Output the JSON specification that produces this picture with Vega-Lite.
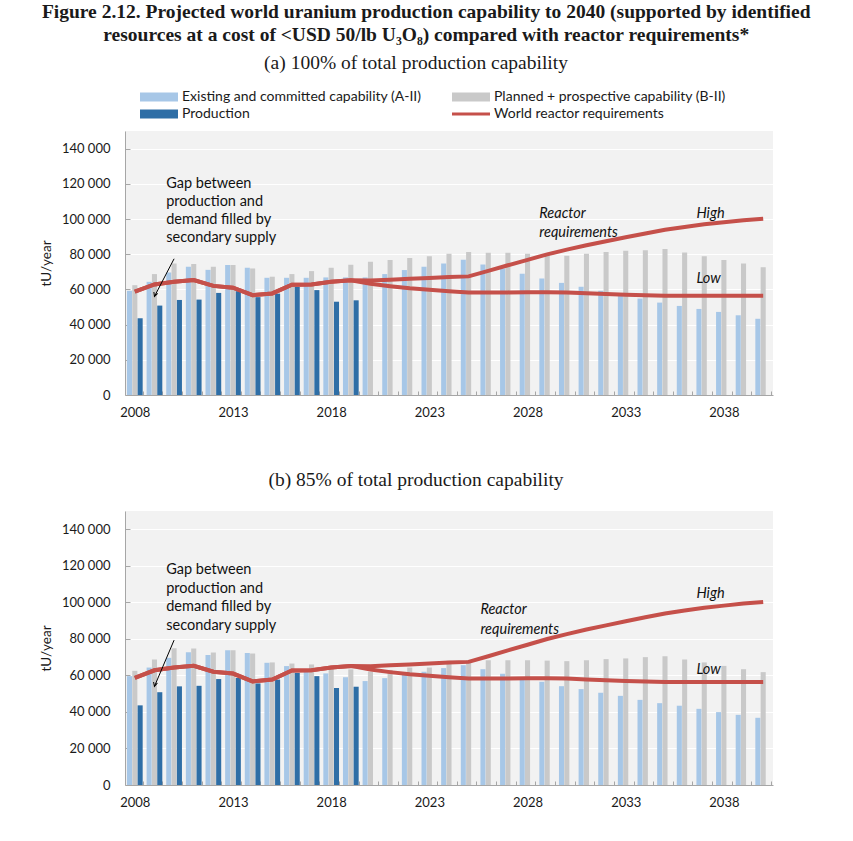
{
 "$schema": "https://vega.github.io/schema/vega-lite/v6.json",
 "padding": {"left": 39, "top": 2, "right": 10, "bottom": 10},
 "background": "white",
 "title": {"text": ["Figure 2.12. Projected world uranium production capability to 2040 (supported by identified", "resources at a cost of <USD 50/lb U₃O₈) compared with reactor requirements*"], "font": "Liberation Serif", "fontSize": 19.5, "fontWeight": "bold", "lineHeight": 23, "anchor": "middle", "dx": 20, "color": "#1a1a1a", "offset": 7},
 "datasets": {
  "barsA": [
   {"y":"2008","s":"A","v":59200},{"y":"2009","s":"A","v":64300},{"y":"2010","s":"A","v":69600},{"y":"2011","s":"A","v":72900},{"y":"2012","s":"A","v":71100},{"y":"2013","s":"A","v":73800},{"y":"2014","s":"A","v":72300},{"y":"2015","s":"A","v":66600},{"y":"2016","s":"A","v":66600},{"y":"2017","s":"A","v":66600},{"y":"2018","s":"A","v":66800},{"y":"2019","s":"A","v":66800},{"y":"2020","s":"A","v":66800},{"y":"2021","s":"A","v":68700},{"y":"2022","s":"A","v":71000},{"y":"2023","s":"A","v":72900},{"y":"2024","s":"A","v":74700},{"y":"2025","s":"A","v":76800},{"y":"2026","s":"A","v":74200},{"y":"2027","s":"A","v":71900},{"y":"2028","s":"A","v":68900},{"y":"2029","s":"A","v":66200},{"y":"2030","s":"A","v":63700},{"y":"2031","s":"A","v":61500},{"y":"2032","s":"A","v":59200},{"y":"2033","s":"A","v":57300},{"y":"2034","s":"A","v":54800},{"y":"2035","s":"A","v":52500},{"y":"2036","s":"A","v":50600},{"y":"2037","s":"A","v":48900},{"y":"2038","s":"A","v":47200},{"y":"2039","s":"A","v":45300},{"y":"2040","s":"A","v":43300},
   {"y":"2008","s":"B","v":62400},{"y":"2009","s":"B","v":68700},{"y":"2010","s":"B","v":74700},{"y":"2011","s":"B","v":74400},{"y":"2012","s":"B","v":72900},{"y":"2013","s":"B","v":73800},{"y":"2014","s":"B","v":71900},{"y":"2015","s":"B","v":67200},{"y":"2016","s":"B","v":68700},{"y":"2017","s":"B","v":70400},{"y":"2018","s":"B","v":72300},{"y":"2019","s":"B","v":74000},{"y":"2020","s":"B","v":75700},{"y":"2021","s":"B","v":76700},{"y":"2022","s":"B","v":77900},{"y":"2023","s":"B","v":78900},{"y":"2024","s":"B","v":80200},{"y":"2025","s":"B","v":81200},{"y":"2026","s":"B","v":80800},{"y":"2027","s":"B","v":80800},{"y":"2028","s":"B","v":80200},{"y":"2029","s":"B","v":80200},{"y":"2030","s":"B","v":79100},{"y":"2031","s":"B","v":80200},{"y":"2032","s":"B","v":81200},{"y":"2033","s":"B","v":82000},{"y":"2034","s":"B","v":82300},{"y":"2035","s":"B","v":82900},{"y":"2036","s":"B","v":81000},{"y":"2037","s":"B","v":78900},{"y":"2038","s":"B","v":76700},{"y":"2039","s":"B","v":74700},{"y":"2040","s":"B","v":72600},
   {"y":"2008","s":"P","v":43600},{"y":"2009","s":"P","v":50800},{"y":"2010","s":"P","v":54000},{"y":"2011","s":"P","v":54200},{"y":"2012","s":"P","v":58000},{"y":"2013","s":"P","v":59000},{"y":"2014","s":"P","v":55600},{"y":"2015","s":"P","v":57600},{"y":"2016","s":"P","v":61500},{"y":"2017","s":"P","v":59600},{"y":"2018","s":"P","v":53000},{"y":"2019","s":"P","v":53800}
  ],
  "barsB": [
   {"y":"2008","s":"A","v":59600},{"y":"2009","s":"A","v":64300},{"y":"2010","s":"A","v":69600},{"y":"2011","s":"A","v":72700},{"y":"2012","s":"A","v":71200},{"y":"2013","s":"A","v":73800},{"y":"2014","s":"A","v":72300},{"y":"2015","s":"A","v":66900},{"y":"2016","s":"A","v":65100},{"y":"2017","s":"A","v":63300},{"y":"2018","s":"A","v":61100},{"y":"2019","s":"A","v":59000},{"y":"2020","s":"A","v":56900},{"y":"2021","s":"A","v":58500},{"y":"2022","s":"A","v":60800},{"y":"2023","s":"A","v":62000},{"y":"2024","s":"A","v":64000},{"y":"2025","s":"A","v":65600},{"y":"2026","s":"A","v":63400},{"y":"2027","s":"A","v":60900},{"y":"2028","s":"A","v":58300},{"y":"2029","s":"A","v":56500},{"y":"2030","s":"A","v":54100},{"y":"2031","s":"A","v":52500},{"y":"2032","s":"A","v":50500},{"y":"2033","s":"A","v":48800},{"y":"2034","s":"A","v":46600},{"y":"2035","s":"A","v":44800},{"y":"2036","s":"A","v":43400},{"y":"2037","s":"A","v":41700},{"y":"2038","s":"A","v":39900},{"y":"2039","s":"A","v":38400},{"y":"2040","s":"A","v":36800},
   {"y":"2008","s":"B","v":62500},{"y":"2009","s":"B","v":68700},{"y":"2010","s":"B","v":74900},{"y":"2011","s":"B","v":74700},{"y":"2012","s":"B","v":72500},{"y":"2013","s":"B","v":73800},{"y":"2014","s":"B","v":72000},{"y":"2015","s":"B","v":67100},{"y":"2016","s":"B","v":66500},{"y":"2017","s":"B","v":66000},{"y":"2018","s":"B","v":65200},{"y":"2019","s":"B","v":63300},{"y":"2020","s":"B","v":62000},{"y":"2021","s":"B","v":63000},{"y":"2022","s":"B","v":64300},{"y":"2023","s":"B","v":64300},{"y":"2024","s":"B","v":68000},{"y":"2025","s":"B","v":68300},{"y":"2026","s":"B","v":68300},{"y":"2027","s":"B","v":68300},{"y":"2028","s":"B","v":68300},{"y":"2029","s":"B","v":68100},{"y":"2030","s":"B","v":67800},{"y":"2031","s":"B","v":68300},{"y":"2032","s":"B","v":68900},{"y":"2033","s":"B","v":69300},{"y":"2034","s":"B","v":70000},{"y":"2035","s":"B","v":70500},{"y":"2036","s":"B","v":68700},{"y":"2037","s":"B","v":67100},{"y":"2038","s":"B","v":65200},{"y":"2039","s":"B","v":63400},{"y":"2040","s":"B","v":61800},
   {"y":"2008","s":"P","v":43600},{"y":"2009","s":"P","v":50800},{"y":"2010","s":"P","v":54000},{"y":"2011","s":"P","v":54300},{"y":"2012","s":"P","v":58000},{"y":"2013","s":"P","v":58600},{"y":"2014","s":"P","v":55600},{"y":"2015","s":"P","v":57700},{"y":"2016","s":"P","v":61400},{"y":"2017","s":"P","v":59600},{"y":"2018","s":"P","v":53100},{"y":"2019","s":"P","v":53800}
  ],
  "req": [
   {"y":"2008","s":"High","v":58700},{"y":"2009","s":"High","v":62800},{"y":"2010","s":"High","v":64300},{"y":"2011","s":"High","v":65300},{"y":"2012","s":"High","v":62000},{"y":"2013","s":"High","v":61000},{"y":"2014","s":"High","v":56700},{"y":"2015","s":"High","v":57700},{"y":"2016","s":"High","v":62700},{"y":"2017","s":"High","v":62800},{"y":"2018","s":"High","v":64300},{"y":"2019","s":"High","v":65200},{"y":"2020","s":"High","v":65000},{"y":"2021","s":"High","v":65500},{"y":"2022","s":"High","v":66000},{"y":"2023","s":"High","v":66500},{"y":"2024","s":"High","v":67000},{"y":"2025","s":"High","v":67400},{"y":"2026","s":"High","v":70500},{"y":"2027","s":"High","v":73700},{"y":"2028","s":"High","v":76800},{"y":"2029","s":"High","v":79900},{"y":"2030","s":"High","v":82600},{"y":"2031","s":"High","v":85100},{"y":"2032","s":"High","v":87400},{"y":"2033","s":"High","v":89600},{"y":"2034","s":"High","v":91800},{"y":"2035","s":"High","v":93900},{"y":"2036","s":"High","v":95500},{"y":"2037","s":"High","v":97000},{"y":"2038","s":"High","v":98200},{"y":"2039","s":"High","v":99300},{"y":"2040","s":"High","v":100200},
   {"y":"2008","s":"Low","v":58700},{"y":"2009","s":"Low","v":62800},{"y":"2010","s":"Low","v":64300},{"y":"2011","s":"Low","v":65300},{"y":"2012","s":"Low","v":62000},{"y":"2013","s":"Low","v":61000},{"y":"2014","s":"Low","v":56700},{"y":"2015","s":"Low","v":57700},{"y":"2016","s":"Low","v":62700},{"y":"2017","s":"Low","v":62800},{"y":"2018","s":"Low","v":64300},{"y":"2019","s":"Low","v":65200},{"y":"2020","s":"Low","v":63200},{"y":"2021","s":"Low","v":61800},{"y":"2022","s":"Low","v":60600},{"y":"2023","s":"Low","v":59800},{"y":"2024","s":"Low","v":59000},{"y":"2025","s":"Low","v":58300},{"y":"2026","s":"Low","v":58300},{"y":"2027","s":"Low","v":58300},{"y":"2028","s":"Low","v":58400},{"y":"2029","s":"Low","v":58400},{"y":"2030","s":"Low","v":58300},{"y":"2031","s":"Low","v":57800},{"y":"2032","s":"Low","v":57400},{"y":"2033","s":"Low","v":57000},{"y":"2034","s":"Low","v":56700},{"y":"2035","s":"Low","v":56400},{"y":"2036","s":"Low","v":56400},{"y":"2037","s":"Low","v":56400},{"y":"2038","s":"Low","v":56400},{"y":"2039","s":"Low","v":56400},{"y":"2040","s":"Low","v":56400}
  ],
  "textA": [
   {"y":"2010","v":120100,"t":"Gap between","k":"n"},
   {"y":"2010","v":109800,"t":"production and","k":"n"},
   {"y":"2010","v":99600,"t":"demand filled by","k":"n"},
   {"y":"2010","v":89400,"t":"secondary supply","k":"n"},
   {"y":"2029","v":103000,"t":"Reactor","k":"i"},
   {"y":"2029","v":92200,"t":"requirements","k":"i"},
   {"y":"2037","v":103000,"t":"High","k":"i"},
   {"y":"2037","v":66000,"t":"Low","k":"i"}
  ],
  "textB": [
   {"y":"2010","v":117500,"t":"Gap between","k":"n"},
   {"y":"2010","v":107200,"t":"production and","k":"n"},
   {"y":"2010","v":97300,"t":"demand filled by","k":"n"},
   {"y":"2010","v":86900,"t":"secondary supply","k":"n"},
   {"y":"2026","v":95700,"t":"Reactor","k":"i"},
   {"y":"2026","v":84700,"t":"requirements","k":"i"},
   {"y":"2037","v":104400,"t":"High","k":"i"},
   {"y":"2037","v":62900,"t":"Low","k":"i"}
  ]
 },
 "vconcat": [
  {
   "title": {"text": "(a) 100% of total production capability", "dx": -33, "offset": 17},
   "width": 648, "height": 264,
   "layer": [
    {"data": {"name": "barsA"}, "mark": {"type": "bar"},
     "encoding": {
      "x": {"field": "y", "type": "nominal", "scale": {"paddingInner": 0.2, "paddingOuter": 0.1},
            "axis": {"title": null, "labelAngle": 0, "labelOverlap": false, "labelExpr": "(toNumber(datum.value) - 2008) % 5 == 0 ? datum.value : ''", "tickBand": "extent", "tickSize": -4, "labelPadding": 15, "grid": false}},
      "xOffset": {"field": "s", "type": "nominal", "scale": {"domain": ["A","B","P"], "paddingInner": 0.05}},
      "y": {"field": "v", "type": "quantitative", "scale": {"domain": [0, 150000], "nice": false},
            "axis": {"title": "tU/year", "values": [0,20000,40000,60000,80000,100000,120000,140000], "labelOverlap": false, "labelExpr": "replace(format(datum.value, ','), ',', ' ')", "tickSize": -5, "labelPadding": 20, "gridColor": "white", "gridWidth": 1.2, "titlePadding": 8}},
      "color": {"field": "s", "type": "nominal", "scale": {"domain": ["A","B","P","R"], "range": ["#a7c7e7","#c9c9c9","#2e6ea6","#c5504a"]},
                "legend": {"orient": "none", "legendX": 27, "legendY": -41, "columns": 2, "direction": "horizontal", "title": null, "labelFont": "Lato", "labelFontSize": 14, "labelLimit": 0, "labelColor": "#1a1a1a", "symbolSize": 100, "columnPadding": 30, "rowPadding": 3, "labelOffset": 16,
                  "labelExpr": "datum.value == 'A' ? 'Existing and committed capability (A-II)' : datum.value == 'B' ? 'Planned + prospective capability (B-II)' : datum.value == 'P' ? 'Production' : 'World reactor requirements'",
                  "encode": {"symbols": {"update": {
                    "shape": {"signal": "datum.value == 'R' ? 'M-3.8,-0.3H3.8V0.3H-3.8Z' : 'M-3.8,-0.9H3.8V0.9H-3.8Z'"},
                    "fill": {"signal": "datum.value == 'A' ? '#a7c7e7' : datum.value == 'B' ? '#c9c9c9' : datum.value == 'P' ? '#2e6ea6' : '#c5504a'"},
                    "strokeWidth": {"value": 0}, "opacity": {"value": 1}, "fillOpacity": {"value": 1}}}}}}
     }},
    {"data": {"name": "req"}, "mark": {"type": "line", "strokeWidth": 4},
     "encoding": {
      "x": {"field": "y", "type": "nominal", "axis": {"title": null, "labelAngle": 0, "labelOverlap": false, "labelExpr": "(toNumber(datum.value) - 2008) % 5 == 0 ? datum.value : ''", "tickBand": "extent", "tickSize": -4, "labelPadding": 15, "grid": false}},
      "y": {"field": "v", "type": "quantitative", "axis": {"title": "tU/year", "values": [0,20000,40000,60000,80000,100000,120000,140000], "labelOverlap": false, "labelExpr": "replace(format(datum.value, ','), ',', ' ')", "tickSize": -5, "labelPadding": 20, "gridColor": "white", "gridWidth": 1.2, "titlePadding": 8}},
      "detail": {"field": "s"}, "color": {"datum": "R"}}},
    {"data": {"values": [{}]}, "mark": {"type": "rule", "color": "black", "strokeWidth": 1},
     "encoding": {
      "x": {"datum": "2010", "type": "nominal", "axis": {"title": null, "labelAngle": 0, "labelOverlap": false, "labelExpr": "(toNumber(datum.value) - 2008) % 5 == 0 ? datum.value : ''", "tickBand": "extent", "tickSize": -4, "labelPadding": 15, "grid": false}},
      "x2": {"datum": "2009"},
      "y": {"datum": 77400, "type": "quantitative", "axis": {"title": "tU/year", "values": [0,20000,40000,60000,80000,100000,120000,140000], "labelOverlap": false, "labelExpr": "replace(format(datum.value, ','), ',', ' ')", "tickSize": -5, "labelPadding": 20, "gridColor": "white", "gridWidth": 1.2, "titlePadding": 8}},
      "y2": {"datum": 56000}}},
    {"data": {"values": [{}]}, "mark": {"type": "point", "shape": "M-0.5,-1L0,0L0.5,-1", "filled": false, "color": "black", "strokeWidth": 1, "size": 64, "angle": 19, "opacity": 1},
     "encoding": {
      "x": {"datum": "2009", "type": "nominal", "axis": {"title": null, "labelAngle": 0, "labelOverlap": false, "labelExpr": "(toNumber(datum.value) - 2008) % 5 == 0 ? datum.value : ''", "tickBand": "extent", "tickSize": -4, "labelPadding": 15, "grid": false}},
      "y": {"datum": 56000, "type": "quantitative", "axis": {"title": "tU/year", "values": [0,20000,40000,60000,80000,100000,120000,140000], "labelOverlap": false, "labelExpr": "replace(format(datum.value, ','), ',', ' ')", "tickSize": -5, "labelPadding": 20, "gridColor": "white", "gridWidth": 1.2, "titlePadding": 8}}}},
    {"data": {"name": "textA"}, "transform": [{"filter": "datum.k == 'n'"}], "mark": {"type": "text", "align": "left", "baseline": "middle", "font": "Lato", "fontSize": 14.5, "color": "#111"},
     "encoding": {
      "x": {"field": "y", "type": "nominal", "bandPosition": 0, "axis": {"title": null, "labelAngle": 0, "labelOverlap": false, "labelExpr": "(toNumber(datum.value) - 2008) % 5 == 0 ? datum.value : ''", "tickBand": "extent", "tickSize": -4, "labelPadding": 15, "grid": false}},
      "y": {"field": "v", "type": "quantitative", "axis": {"title": "tU/year", "values": [0,20000,40000,60000,80000,100000,120000,140000], "labelOverlap": false, "labelExpr": "replace(format(datum.value, ','), ',', ' ')", "tickSize": -5, "labelPadding": 20, "gridColor": "white", "gridWidth": 1.2, "titlePadding": 8}},
      "text": {"field": "t"}}},
    {"data": {"name": "textA"}, "transform": [{"filter": "datum.k == 'i'"}], "mark": {"type": "text", "align": "left", "baseline": "middle", "font": "Lato", "fontSize": 14.5, "fontStyle": "italic", "color": "#111"},
     "encoding": {
      "x": {"field": "y", "type": "nominal", "bandPosition": 0, "axis": {"title": null, "labelAngle": 0, "labelOverlap": false, "labelExpr": "(toNumber(datum.value) - 2008) % 5 == 0 ? datum.value : ''", "tickBand": "extent", "tickSize": -4, "labelPadding": 15, "grid": false}},
      "y": {"field": "v", "type": "quantitative", "axis": {"title": "tU/year", "values": [0,20000,40000,60000,80000,100000,120000,140000], "labelOverlap": false, "labelExpr": "replace(format(datum.value, ','), ',', ' ')", "tickSize": -5, "labelPadding": 20, "gridColor": "white", "gridWidth": 1.2, "titlePadding": 8}},
      "text": {"field": "t"}}}
   ]
  },
  {
   "title": {"text": "(b) 85% of total production capability", "dx": -33, "offset": 21},
   "width": 648, "height": 274,
   "layer": [
    {"data": {"name": "barsB"}, "mark": {"type": "bar"},
     "encoding": {
      "x": {"field": "y", "type": "nominal", "scale": {"paddingInner": 0.2, "paddingOuter": 0.1},
            "axis": {"title": null, "labelAngle": 0, "labelOverlap": false, "labelExpr": "(toNumber(datum.value) - 2008) % 5 == 0 ? datum.value : ''", "tickBand": "extent", "tickSize": -4, "labelPadding": 15, "grid": false}},
      "xOffset": {"field": "s", "type": "nominal", "scale": {"domain": ["A","B","P"], "paddingInner": 0.05}},
      "y": {"field": "v", "type": "quantitative", "scale": {"domain": [0, 150000], "nice": false},
            "axis": {"title": "tU/year", "values": [0,20000,40000,60000,80000,100000,120000,140000], "labelOverlap": false, "labelExpr": "replace(format(datum.value, ','), ',', ' ')", "tickSize": -5, "labelPadding": 20, "gridColor": "white", "gridWidth": 1.2, "titlePadding": 8}},
      "color": {"field": "s", "type": "nominal", "scale": {"domain": ["A","B","P","R"], "range": ["#a7c7e7","#c9c9c9","#2e6ea6","#c5504a"]}, "legend": null}
     }},
    {"data": {"name": "req"}, "mark": {"type": "line", "strokeWidth": 4},
     "encoding": {
      "x": {"field": "y", "type": "nominal", "axis": {"title": null, "labelAngle": 0, "labelOverlap": false, "labelExpr": "(toNumber(datum.value) - 2008) % 5 == 0 ? datum.value : ''", "tickBand": "extent", "tickSize": -4, "labelPadding": 15, "grid": false}},
      "y": {"field": "v", "type": "quantitative", "axis": {"title": "tU/year", "values": [0,20000,40000,60000,80000,100000,120000,140000], "labelOverlap": false, "labelExpr": "replace(format(datum.value, ','), ',', ' ')", "tickSize": -5, "labelPadding": 20, "gridColor": "white", "gridWidth": 1.2, "titlePadding": 8}},
      "detail": {"field": "s"}, "color": {"datum": "R", "legend": null}}},
    {"data": {"values": [{}]}, "mark": {"type": "rule", "color": "black", "strokeWidth": 1},
     "encoding": {
      "x": {"datum": "2010", "type": "nominal", "axis": {"title": null, "labelAngle": 0, "labelOverlap": false, "labelExpr": "(toNumber(datum.value) - 2008) % 5 == 0 ? datum.value : ''", "tickBand": "extent", "tickSize": -4, "labelPadding": 15, "grid": false}},
      "x2": {"datum": "2009"},
      "y": {"datum": 79300, "type": "quantitative", "axis": {"title": "tU/year", "values": [0,20000,40000,60000,80000,100000,120000,140000], "labelOverlap": false, "labelExpr": "replace(format(datum.value, ','), ',', ' ')", "tickSize": -5, "labelPadding": 20, "gridColor": "white", "gridWidth": 1.2, "titlePadding": 8}},
      "y2": {"datum": 54000}}},
    {"data": {"values": [{}]}, "mark": {"type": "point", "shape": "M-0.5,-1L0,0L0.5,-1", "filled": false, "color": "black", "strokeWidth": 1, "size": 64, "angle": 15, "opacity": 1},
     "encoding": {
      "x": {"datum": "2009", "type": "nominal", "axis": {"title": null, "labelAngle": 0, "labelOverlap": false, "labelExpr": "(toNumber(datum.value) - 2008) % 5 == 0 ? datum.value : ''", "tickBand": "extent", "tickSize": -4, "labelPadding": 15, "grid": false}},
      "y": {"datum": 54000, "type": "quantitative", "axis": {"title": "tU/year", "values": [0,20000,40000,60000,80000,100000,120000,140000], "labelOverlap": false, "labelExpr": "replace(format(datum.value, ','), ',', ' ')", "tickSize": -5, "labelPadding": 20, "gridColor": "white", "gridWidth": 1.2, "titlePadding": 8}}}},
    {"data": {"name": "textB"}, "transform": [{"filter": "datum.k == 'n'"}], "mark": {"type": "text", "align": "left", "baseline": "middle", "font": "Lato", "fontSize": 14.5, "color": "#111"},
     "encoding": {
      "x": {"field": "y", "type": "nominal", "bandPosition": 0, "axis": {"title": null, "labelAngle": 0, "labelOverlap": false, "labelExpr": "(toNumber(datum.value) - 2008) % 5 == 0 ? datum.value : ''", "tickBand": "extent", "tickSize": -4, "labelPadding": 15, "grid": false}},
      "y": {"field": "v", "type": "quantitative", "axis": {"title": "tU/year", "values": [0,20000,40000,60000,80000,100000,120000,140000], "labelOverlap": false, "labelExpr": "replace(format(datum.value, ','), ',', ' ')", "tickSize": -5, "labelPadding": 20, "gridColor": "white", "gridWidth": 1.2, "titlePadding": 8}},
      "text": {"field": "t"}}},
    {"data": {"name": "textB"}, "transform": [{"filter": "datum.k == 'i'"}], "mark": {"type": "text", "align": "left", "baseline": "middle", "font": "Lato", "fontSize": 14.5, "fontStyle": "italic", "color": "#111"},
     "encoding": {
      "x": {"field": "y", "type": "nominal", "bandPosition": 0, "axis": {"title": null, "labelAngle": 0, "labelOverlap": false, "labelExpr": "(toNumber(datum.value) - 2008) % 5 == 0 ? datum.value : ''", "tickBand": "extent", "tickSize": -4, "labelPadding": 15, "grid": false}},
      "y": {"field": "v", "type": "quantitative", "axis": {"title": "tU/year", "values": [0,20000,40000,60000,80000,100000,120000,140000], "labelOverlap": false, "labelExpr": "replace(format(datum.value, ','), ',', ' ')", "tickSize": -5, "labelPadding": 20, "gridColor": "white", "gridWidth": 1.2, "titlePadding": 8}},
      "text": {"field": "t"}}}
   ]
  }
 ],
 "spacing": 50,
 "resolve": {"scale": {"color": "independent"}, "legend": {"color": "independent"}},
 "config": {
  "view": {"fill": "#f2f2f2", "stroke": null},
  "font": "Lato",
  "title": {"font": "Liberation Serif", "fontSize": 19.5, "fontWeight": "normal", "color": "#1a1a1a", "offset": 8},
  "axis": {"labelFont": "Lato", "labelFontSize": 13, "labelColor": "#1a1a1a", "titleFont": "Lato", "titleFontSize": 13.5, "titleFontWeight": "normal", "titleColor": "#1a1a1a", "domainColor": "#a6a6a6", "tickColor": "#a6a6a6"},
  "axisY": {"labelOverlap": false}
 }
}
